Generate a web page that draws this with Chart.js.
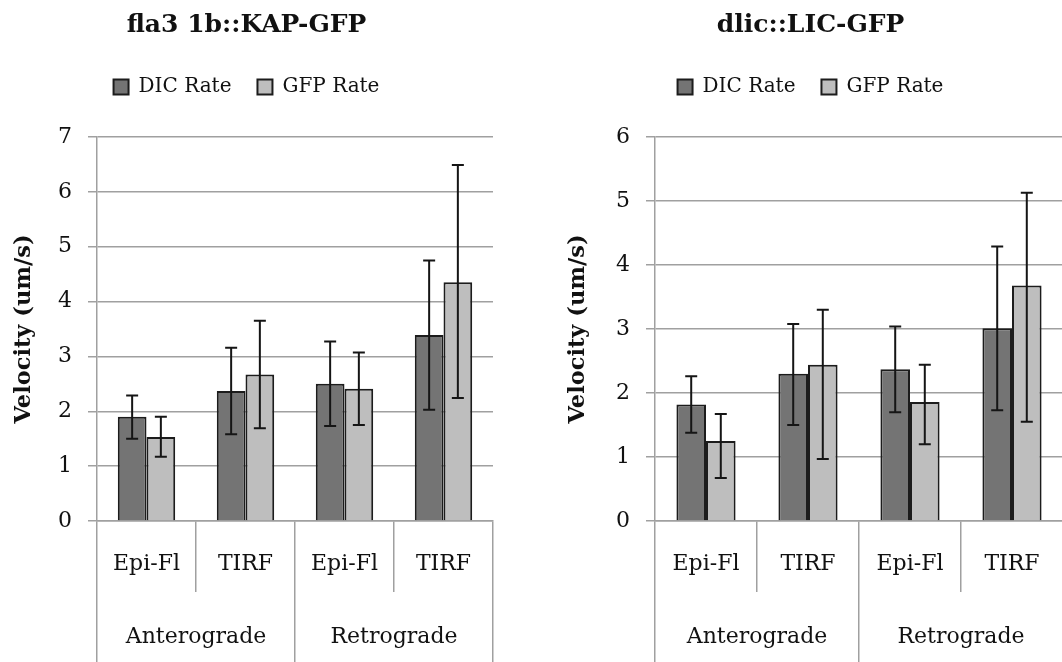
<!DOCTYPE html>
<html>
<head>
<meta charset="utf-8">
<title>Velocity charts</title>
<script src="https://cdn.jsdelivr.net/npm/chart.js@4.4.1/dist/chart.umd.min.js"></script>
<style>
  html, body { margin: 0; padding: 0; background: #fff; overflow: hidden; }
  body { width: 1062px; height: 662px; position: relative; }
  canvas { position: absolute; top: 0; }
  #kap { left: 0; }
  #lic { left: 558px; }
</style>
</head>
<body>
<canvas id="kap" width="494" height="662"></canvas>
<canvas id="lic" width="506" height="662"></canvas>
<script>
// Category labels (inner level) and direction groups (outer level)
const methodLabels = ['Epi-Fl', 'TIRF', 'Epi-Fl', 'TIRF'];
const directionLabels = ['Anterograde', 'Retrograde'];
const seriesNames = ['DIC Rate', 'GFP Rate'];

// fla3 1b::KAP-GFP  (um/s)
const kapDic = [1.90, 2.37, 2.50, 3.39];
const kapDicErrUp = [0.39, 0.79, 0.77, 1.36];
const kapDicErrDown = [0.40, 0.79, 0.77, 1.36];
const kapGfp = [1.53, 2.67, 2.41, 4.35];
const kapGfpErrUp = [0.37, 0.98, 0.66, 2.14];
const kapGfpErrDown = [0.36, 0.98, 0.66, 2.11];
const kapTicks = [0, 1, 2, 3, 4, 5, 6, 7];

// dlic::LIC-GFP  (um/s)
const licDic = [1.82, 2.30, 2.37, 3.01];
const licDicErrUp = [0.44, 0.78, 0.67, 1.28];
const licDicErrDown = [0.44, 0.80, 0.67, 1.28];
const licGfp = [1.25, 2.44, 1.86, 3.68];
const licGfpErrUp = [0.42, 0.86, 0.58, 1.45];
const licGfpErrDown = [0.58, 1.47, 0.66, 2.13];
const licTicks = [0, 1, 2, 3, 4, 5, 6];

const FONT = "'DejaVu Serif', 'Liberation Serif', serif";
const GRID = '#a0a0a0';
const INK = '#111111';
const DIC_FILL = '#747474';
const GFP_FILL = '#bebebe';
const EDGE = '#1c1c1c';

Chart.defaults.font.family = FONT;
Chart.defaults.color = INK;

// Draws the error whiskers for every bar from its dataset's errUp / errDown arrays
const errorBars = {
  id: 'errorBars',
  afterDatasetsDraw(chart) {
    const ctx = chart.ctx;
    const y = chart.scales.y;
    ctx.save();
    ctx.strokeStyle = '#151515';
    ctx.lineWidth = 2;
    chart.data.datasets.forEach((ds, di) => {
      const meta = chart.getDatasetMeta(di);
      meta.data.forEach((bar, i) => {
        const v = ds.data[i];
        const yTop = y.getPixelForValue(v + ds.errUp[i]);
        const yBot = y.getPixelForValue(v - ds.errDown[i]);
        const x = bar.x;
        const cap = 6;
        ctx.beginPath();
        ctx.moveTo(x, yTop); ctx.lineTo(x, yBot);
        ctx.moveTo(x - cap, yTop); ctx.lineTo(x + cap, yTop);
        ctx.moveTo(x - cap, yBot); ctx.lineTo(x + cap, yBot);
        ctx.stroke();
      });
    });
    ctx.restore();
  }
};

// Leaves extra room between the legend row and the plot area
const legendGap = {
  id: 'legendGap',
  beforeInit(chart) {
    const legend = chart.legend;
    if (!legend) return;
    const fit = legend.fit;
    legend.fit = function () {
      fit.call(this);
      this.height += 30;
    };
  }
};

function makeChart(id, title, dic, dicUp, dicDown, gfp, gfpUp, gfpDown, ticks, yTitlePad) {
  const yMax = ticks[ticks.length - 1];
  return new Chart(document.getElementById(id), {
    type: 'bar',
    data: {
      labels: methodLabels,
      datasets: [
        { label: seriesNames[0], data: dic, errUp: dicUp, errDown: dicDown,
          backgroundColor: DIC_FILL, borderColor: EDGE, borderWidth: 2,
          categoryPercentage: 0.58, barPercentage: 1.0 },
        { label: seriesNames[1], data: gfp, errUp: gfpUp, errDown: gfpDown,
          backgroundColor: GFP_FILL, borderColor: EDGE, borderWidth: 2,
          categoryPercentage: 0.58, barPercentage: 1.0 }
      ]
    },
    options: {
      responsive: false,
      animation: false,
      devicePixelRatio: 1,
      layout: { padding: { left: 0, right: 1, top: 0, bottom: 0 } },
      plugins: {
        title: {
          display: true, text: title, color: INK,
          font: { family: FONT, size: 25, weight: 'bold' },
          padding: { top: 10, bottom: 11 }
        },
        legend: {
          display: true, position: 'top',
          labels: {
            color: INK, font: { family: FONT, size: 20 },
            boxWidth: 15, boxHeight: 15, padding: 26
          }
        },
        tooltip: { enabled: false }
      },
      scales: {
        x: {
          type: 'category', position: 'bottom', weight: 0,
          offset: true,
          grid: { offset: true, drawOnChartArea: false, drawTicks: true,
                  tickLength: 71, color: GRID, lineWidth: 1.5, tickColor: GRID },
          border: { display: true, color: GRID, width: 1.5 },
          ticks: { font: { family: FONT, size: 22 }, color: INK, padding: -41,
                   maxRotation: 0, autoSkip: false },
          afterFit(s) { s.height = 71; }
        },
        x2: {
          type: 'category', position: 'bottom', weight: 1,
          labels: directionLabels, offset: true,
          grid: { offset: true, drawOnChartArea: false, drawTicks: true,
                  tickLength: 90, color: GRID, lineWidth: 1.5, tickColor: GRID },
          border: { display: false },
          ticks: { font: { family: FONT, size: 22 }, color: INK, padding: -58,
                   maxRotation: 0, autoSkip: false },
          afterFit(s) { s.height = 70; }
        },
        y: {
          min: 0, max: yMax,
          afterBuildTicks(s) { s.ticks = ticks.map(v => ({ value: v })); },
          grid: { color: GRID, lineWidth: 1.5, tickLength: 9, tickColor: GRID },
          border: { display: true, color: GRID, width: 1.5 },
          ticks: { font: { family: FONT, size: 22 }, color: INK, padding: 16 },
          title: {
            display: true, text: 'Velocity (um/s)', color: INK,
            font: { family: FONT, size: 22.5, weight: 'bold' },
            padding: { top: yTitlePad, bottom: 0 }
          },
          afterFit(s) { s.width = 97; }
        }
      }
    },
    plugins: [errorBars, legendGap]
  });
}

makeChart('kap', 'fla3 1b::KAP-GFP', kapDic, kapDicErrUp, kapDicErrDown,
          kapGfp, kapGfpErrUp, kapGfpErrDown, kapTicks, 11);
makeChart('lic', 'dlic::LIC-GFP', licDic, licDicErrUp, licDicErrDown,
          licGfp, licGfpErrUp, licGfpErrDown, licTicks, 7);
</script>
</body>
</html>
